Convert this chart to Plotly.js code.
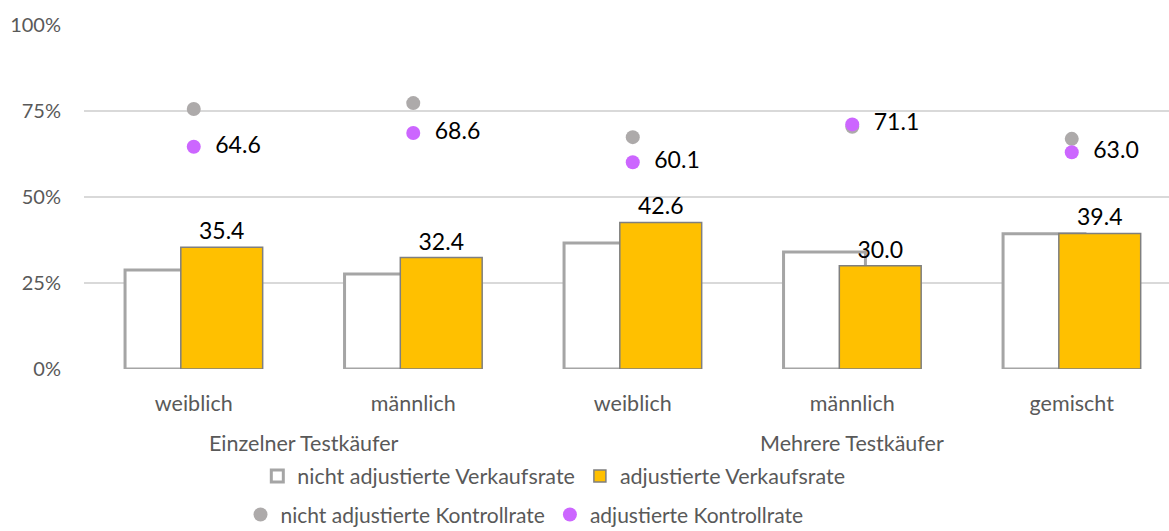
<!DOCTYPE html>
<html>
<head>
<meta charset="utf-8">
<script src="https://cdn.plot.ly/plotly-3.0.1.min.js"></script>
<style>
  html, body { margin: 0; padding: 0; background: #fff; }
  #chart { width: 1169px; height: 531px; }
</style>
</head>
<body>
<div id="chart"></div>
<script>
// Kategorien (x-Positionen 0..4)
const categories = ['weiblich', 'männlich', 'weiblich', 'männlich', 'gemischt'];
const groupLabels = ['Einzelner Testkäufer', 'Mehrere Testkäufer'];

// Werte in Prozent
const unadjSales = [28.8, 27.6, 36.6, 34.0, 39.3];
const adjSales = [35.4, 32.4, 42.6, 30.0, 39.4];
const unadjControl = [75.6, 77.3, 67.4, 70.4, 66.9];
const adjControl = [64.6, 68.6, 60.1, 71.1, 63.0];

const xIdx = categories.map((_, i) => i);
const FONT = 'Lato, "Open Sans", sans-serif';
const GREY_TXT = '#595959';
const BAR_W = 0.373;

const unadjSalesTrace = {
    x: xIdx,
    y: unadjSales,
    type: 'bar',
    name: 'nicht adjustierte Verkaufsrate',
    width: BAR_W,
    offset: -0.313,
    marker: { color: '#FFFFFF', line: { color: '#A5A5A5', width: 3 } },
    hoverinfo: 'skip'
};

const adjSalesTrace = {
    x: xIdx,
    y: adjSales,
    type: 'bar',
    name: 'adjustierte Verkaufsrate',
    width: BAR_W,
    offset: -0.059,
    marker: { color: '#FFC000', line: { color: '#7F7F7F', width: 1.5 } },
    text: adjSales.map(v => v.toFixed(1)),
    textposition: 'outside',
    textfont: { family: FONT, size: 23, color: '#000000' },
    cliponaxis: false,
    hoverinfo: 'skip'
};

const unadjControlTrace = {
    x: xIdx,
    y: unadjControl,
    type: 'scatter',
    mode: 'markers',
    name: 'nicht adjustierte Kontrollrate',
    legend: 'legend2',
    marker: { size: 14, color: '#ADAAAA' },
    cliponaxis: false,
    hoverinfo: 'skip'
};

const adjControlTrace = {
    x: xIdx,
    y: adjControl,
    type: 'scatter',
    mode: 'markers+text',
    name: 'adjustierte Kontrollrate',
    legend: 'legend2',
    marker: { size: 14, color: '#CC66FF' },
    text: adjControl.map(v => '  ' + v.toFixed(1)),
    textposition: 'middle right',
    textfont: { family: FONT, size: 23, color: '#000000' },
    cliponaxis: false,
    hoverinfo: 'skip'
};

const layout = {
    width: 1169,
    height: 531,
    margin: { l: 84, r: 0, t: 25, b: 162, autoexpand: false },
    paper_bgcolor: '#FFFFFF',
    plot_bgcolor: '#FFFFFF',
    barmode: 'overlay',
    font: { family: FONT, size: 20, color: GREY_TXT },
    xaxis: {
        range: [-0.5, 4.443],
        tickvals: xIdx,
        ticktext: categories,
        showgrid: false,
        zeroline: false,
        showline: false,
        ticks: '',
        ticklabelstandoff: 19,
        tickfont: { size: 21.5, color: GREY_TXT },
        fixedrange: true
    },
    yaxis: {
        range: [0, 100],
        tickmode: 'linear',
        tick0: 0,
        dtick: 25,
        ticksuffix: '%',
        showgrid: true,
        gridcolor: '#D9D9D9',
        gridwidth: 1.5,
        zeroline: false,
        showline: false,
        ticks: '',
        ticklabelstandoff: 22,
        tickfont: { size: 20, color: GREY_TXT },
        fixedrange: true
    },
    legend: {
        orientation: 'h',
        x: 0.433,
        xanchor: 'center',
        y: -0.311,
        yanchor: 'middle',
        font: { size: 21.5, color: GREY_TXT },
        itemwidth: 30
    },
    legend2: {
        orientation: 'h',
        x: 0.406,
        xanchor: 'center',
        y: -0.424,
        yanchor: 'middle',
        font: { size: 21, color: GREY_TXT },
        itemwidth: 30
    },
    annotations: [
        { text: groupLabels[0], x: 0.5, xref: 'x', y: -0.215, yref: 'paper', yanchor: 'middle', showarrow: false, font: { size: 21.5, color: GREY_TXT } },
        { text: groupLabels[1], x: 3, xref: 'x', y: -0.215, yref: 'paper', yanchor: 'middle', showarrow: false, font: { size: 21.5, color: GREY_TXT } }
    ],
    showlegend: true
};

Plotly.newPlot('chart', [unadjSalesTrace, adjSalesTrace, unadjControlTrace, adjControlTrace], layout, { displayModeBar: false, staticPlot: true });
</script>
</body>
</html>
